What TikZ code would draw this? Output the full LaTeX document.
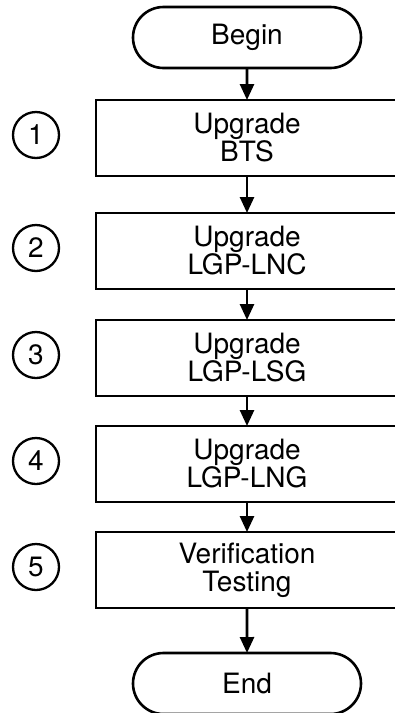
\documentclass[tikz,border=0pt]{standalone}
\usepackage{fontspec}
\setmainfont{TeX Gyre Heros}
\usetikzlibrary{shapes.misc}
\usetikzlibrary{arrows.meta}
\usetikzlibrary{positioning}
\tikzset{
	flownode/.style = {align=center, inner sep=0pt, outer sep=0pt, text centered,
		line width=2.6pt, font=\fontsize{28}{28}\selectfont},
	flw_t/.style = {flownode, rounded rectangle, draw=black,
		minimum width=228pt, minimum height=61pt},% terminal, debut / fin
	flw_b/.style = {flownode, rectangle, draw=black,
		minimum width=302pt, minimum height=76pt},% etape
	flw_n/.style = {flownode, circle, draw=black,
		minimum size=46pt, line width=2.3pt}% numero d'etape
}

\begin{document}
\begin{tikzpicture}[->,>={Triangle[length=16pt,width=14pt]}, line width=2.6pt]
			\useasboundingbox (0,0) rectangle (395pt,-713pt);
			\node [flw_t] (begin) at (247pt,-37.5pt) {Begin};
			\node [flw_b, below=32pt of begin] (s1) {Upgrade\\BTS};
			\node [flw_b, below=37pt of s1] (s2) {Upgrade\\LGP-LNC};
			\node [flw_b, below=31pt of s2] (s3) {Upgrade\\LGP-LSG};
			\node [flw_b, below=30pt of s3] (s4) {Upgrade\\LGP-LNG};
			\node [flw_b, below=30pt of s4] (s5) {Verification\\Testing};
			\node [flw_t, below=45pt of s5] (end) {End};
			\foreach \i in {1,...,5}
				\node [flw_n, left=37pt of s\i, yshift=3pt] (n\i) {\i};
			\draw (begin) -- (s1);
			\foreach \i/\j in {1/2,2/3,3/4,4/5}
				\draw (s\i) -- (s\j);
			\draw (s5) -- (end);
\end{tikzpicture}
\end{document}
